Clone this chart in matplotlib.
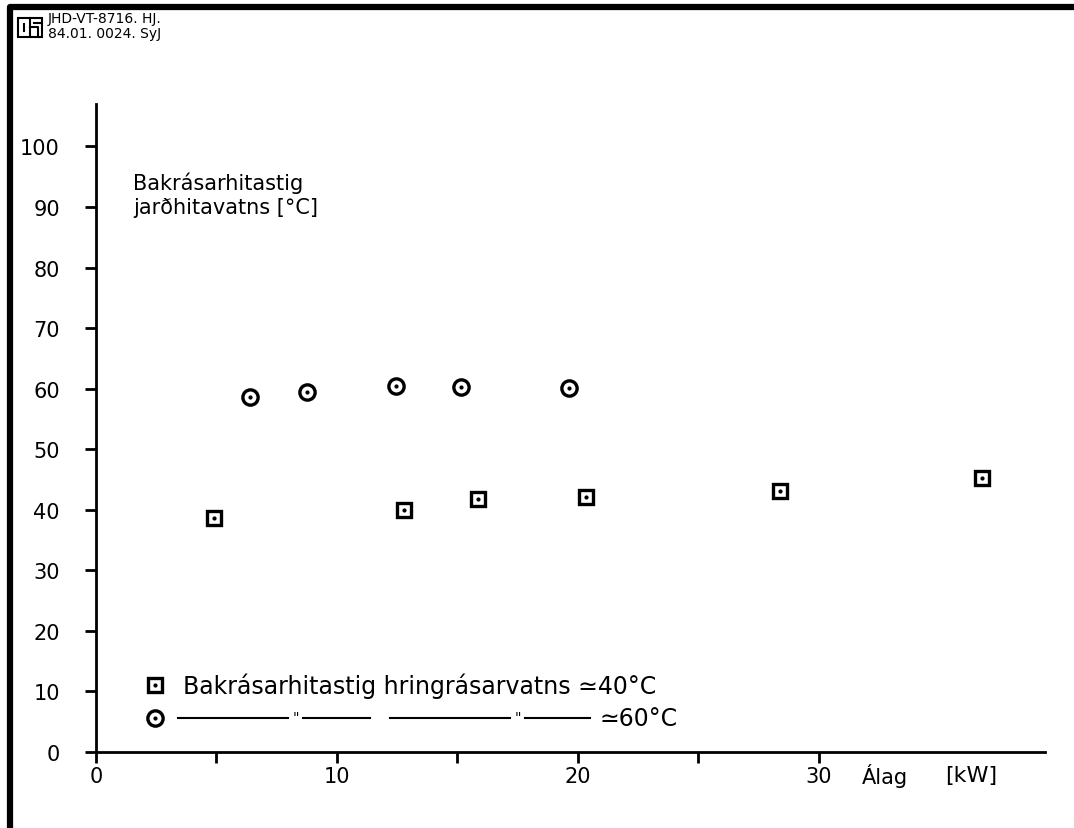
import matplotlib.pyplot as plt
from matplotlib.lines import Line2D
from matplotlib.patches import Rectangle

# data
load_40 = [4.9, 12.8, 15.85, 20.35, 28.4, 36.8]
temp_40 = [38.7, 39.9, 41.7, 42.1, 43.1, 45.2]
load_60 = [6.4, 8.75, 12.45, 15.15, 19.65]
temp_60 = [58.6, 59.5, 60.5, 60.3, 60.1]

x_ticks = [0, 5, 10, 15, 20, 25, 30]
x_labels = ["0", "", "10", "", "20", "", "30"]
y_ticks = list(range(0, 101, 10))

W, H = 1074, 829
fig = plt.figure(figsize=(W / 100, H / 100), dpi=100)
plt.rcParams['font.family'] = ['DejaVu Sans']


def fx(x):
    return x / W


def fy(y):
    return 1 - y / H


# axes placed in pixel terms of the scanned sheet
ax = fig.add_axes([fx(96), fy(753), (1045 - 96) / W, (753 - 105) / H])
ax.set_xlim(0, 39.4)
ax.set_ylim(0, 107)
for s in ["top", "right"]:
    ax.spines[s].set_visible(False)
ax.spines["left"].set_linewidth(2)
ax.spines["bottom"].set_linewidth(2)

ax.set_xticks(x_ticks)
ax.set_xticklabels(x_labels)
ax.set_yticks(y_ticks)
ax.tick_params(axis="both", direction="out", length=8, width=2, labelsize=15)
ax.tick_params(axis="y", pad=18)
ax.tick_params(axis="x", pad=2)

# data points: hollow markers with a dot in the middle
ax.plot(load_40, temp_40, ls="none", marker="s", ms=10, mfc="white",
        mec="black", mew=2.4, clip_on=False)
ax.plot(load_40, temp_40, ls="none", marker=".", ms=4, color="black")
ax.plot(load_60, temp_60, ls="none", marker="o", ms=11, mfc="white",
        mec="black", mew=2.4, clip_on=False)
ax.plot(load_60, temp_60, ls="none", marker=".", ms=4, color="black")

# axis titles
fig.text(fx(133), fy(183), "Bakrásarhitastig", fontsize=15, va="center")
fig.text(fx(133), fy(208), "jarðhitavatns [°C]", fontsize=15, va="center")
fig.text(fx(862), fy(776), "Álag", fontsize=15, va="center")
fig.text(fx(945), fy(776), "[kW]", fontsize=16, va="center")

# legend drawn by hand like on the sheet
fig.add_artist(Line2D([fx(155)], [fy(686)], marker="s", ms=10, mfc="white",
                      mec="black", mew=2.4))
fig.add_artist(Line2D([fx(155)], [fy(686)], marker=".", ms=4, color="black"))
fig.add_artist(Line2D([fx(155)], [fy(719)], marker="o", ms=11, mfc="white",
                      mec="black", mew=2.4))
fig.add_artist(Line2D([fx(155)], [fy(719)], marker=".", ms=4, color="black"))
fig.text(fx(183), fy(686), "Bakrásarhitastig hringrásarvatns ≃40°C",
         fontsize=17, va="center")
for a, b in [(178, 288), (303, 370), (390, 510), (525, 590)]:
    fig.add_artist(Line2D([fx(a), fx(b)], [fy(719), fy(719)],
                          color="black", lw=1.5))
for x in [296, 518]:
    fig.text(fx(x), fy(718), "\"", fontsize=10, ha="center", va="center")
fig.text(fx(600), fy(719), "≃60°C", fontsize=17, va="center")

# header with logo
fig.add_artist(Rectangle((fx(18), fy(38)), (42 - 18) / W, (38 - 19) / H,
                         fill=False, ec="black", lw=1.5))
fig.add_artist(Line2D([fx(30), fx(30)], [fy(19), fy(38)], color="black", lw=1.5))
fig.add_artist(Line2D([fx(24), fx(24)], [fy(25), fy(32)], color="black", lw=1.5))
fig.add_artist(Line2D([fx(30), fx(38), fx(38)], [fy(28), fy(28), fy(38)],
                      color="black", lw=1.5))
fig.add_artist(Line2D([fx(34), fx(42)], [fy(24), fy(24)], color="black", lw=1.5))
fig.text(fx(48), fy(19), "JHD-VT-8716. HJ.", fontsize=10, va="center")
fig.text(fx(48), fy(34), "84.01. 0024. SyJ", fontsize=10, va="center")

# thick sheet frame on top and left
fig.add_artist(Line2D([fx(10), fx(10), fx(W)], [fy(H), fy(8), fy(8)],
                      color="black", lw=4.5))

fig.savefig("out.png", dpi=100)
